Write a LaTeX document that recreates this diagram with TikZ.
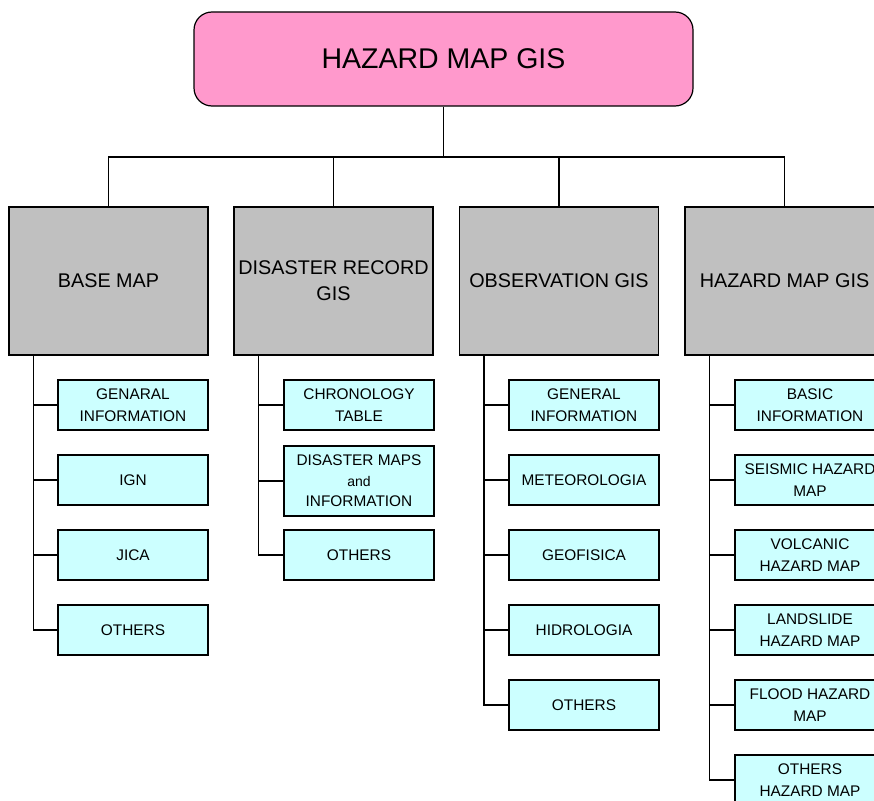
\documentclass[tikz,border=0pt]{standalone}
\usepackage{fontspec}
\setmainfont{Liberation Sans}
\definecolor{pinkfill}{HTML}{FF99CC}
\definecolor{grayfill}{HTML}{C0C0C0}
\definecolor{cyanfill}{HTML}{CCFFFF}
\begin{document}
\begin{tikzpicture}[x=1pt,y=-1pt,line width=1.2pt,
  rootbox/.style={draw,fill=pinkfill,rounded corners=18pt,minimum width=499pt,minimum height=94pt,inner sep=0pt,font=\fontsize{28.5}{32}\selectfont},
  groupbox/.style={draw,fill=grayfill,minimum width=199pt,minimum height=148pt,inner sep=0pt,align=center,font=\fontsize{19.8}{26}\selectfont},
  leafbox/.style={draw,fill=cyanfill,minimum width=150pt,minimum height=50pt,inner sep=0pt,align=center,font=\fontsize{15.4}{21.5}\selectfont},
  link/.style={draw,line width=1.2pt}]
\useasboundingbox (0,0) rectangle (874,800);
\node[rootbox] (top) at (443.5,59) {HAZARD MAP GIS};
\coordinate (bus) at (443.5,157);
\node[groupbox] (g1) at (108.5,281) {BASE MAP};
\node[groupbox] (g2) at (333.5,281) {DISASTER RECORD\\GIS};
\node[groupbox] (g3) at (559,281) {OBSERVATION GIS};
\node[groupbox] (g4) at (784.5,281) {HAZARD MAP GIS};
\draw[link] (top.south) -- (bus);
\draw[link] (g1.north) |- (bus) -| (g4.north);
\draw[link] (g2.north) -- (g2.north |- bus);
\draw[link] (g3.north) -- (g3.north |- bus);
% column 1
\node[leafbox] (a1) at (133,405) {GENARAL\\INFORMATION};
\node[leafbox] (a2) at (133,480) {IGN};
\node[leafbox] (a3) at (133,555) {JICA};
\node[leafbox] (a4) at (133,630) {OTHERS};
% column 2
\node[leafbox] (b1) at (359,405) {CHRONOLOGY\\TABLE};
\node[leafbox,minimum height=70pt,font=\fontsize{15.4}{20.5}\selectfont] (b2) at (359,481) {DISASTER MAPS\\{\fontsize{14}{20.5}\selectfont and}\\INFORMATION};
\node[leafbox] (b3) at (359,555) {OTHERS};
% column 3
\node[leafbox] (c1) at (584,405) {GENERAL\\INFORMATION};
\node[leafbox] (c2) at (584,480) {METEOROLOGIA};
\node[leafbox] (c3) at (584,555) {GEOFISICA};
\node[leafbox] (c4) at (584,630) {HIDROLOGIA};
\node[leafbox] (c5) at (584,705) {OTHERS};
% column 4
\node[leafbox] (d1) at (810,405) {BASIC\\INFORMATION};
\node[leafbox] (d2) at (810,480) {SEISMIC HAZARD\\MAP};
\node[leafbox] (d3) at (810,555) {VOLCANIC\\HAZARD MAP};
\node[leafbox] (d4) at (810,630) {LANDSLIDE\\HAZARD MAP};
\node[leafbox] (d5) at (810,705) {FLOOD HAZARD\\MAP};
\node[leafbox] (d6) at (810,780) {OTHERS\\HAZARD MAP};
% trunks
\coordinate (t1) at ([xshift=25pt]g1.south west);
\coordinate (t2) at ([xshift=25pt]g2.south west);
\coordinate (t3) at ([xshift=25pt]g3.south west);
\coordinate (t4) at ([xshift=25pt]g4.south west);
\draw[link] (t1) |- (a4.west);
\foreach \n in {a1,a2,a3}{\draw[link] (\n.west) -- (t1 |- \n.west);}
\draw[link] (t2) |- (b3.west);
\foreach \n in {b1,b2}{\draw[link] (\n.west) -- (t2 |- \n.west);}
\draw[link] (t3) |- (c5.west);
\foreach \n in {c1,c2,c3,c4}{\draw[link] (\n.west) -- (t3 |- \n.west);}
\draw[link] (t4) |- (d6.west);
\foreach \n in {d1,d2,d3,d4,d5}{\draw[link] (\n.west) -- (t4 |- \n.west);}
\end{tikzpicture}
\end{document}
